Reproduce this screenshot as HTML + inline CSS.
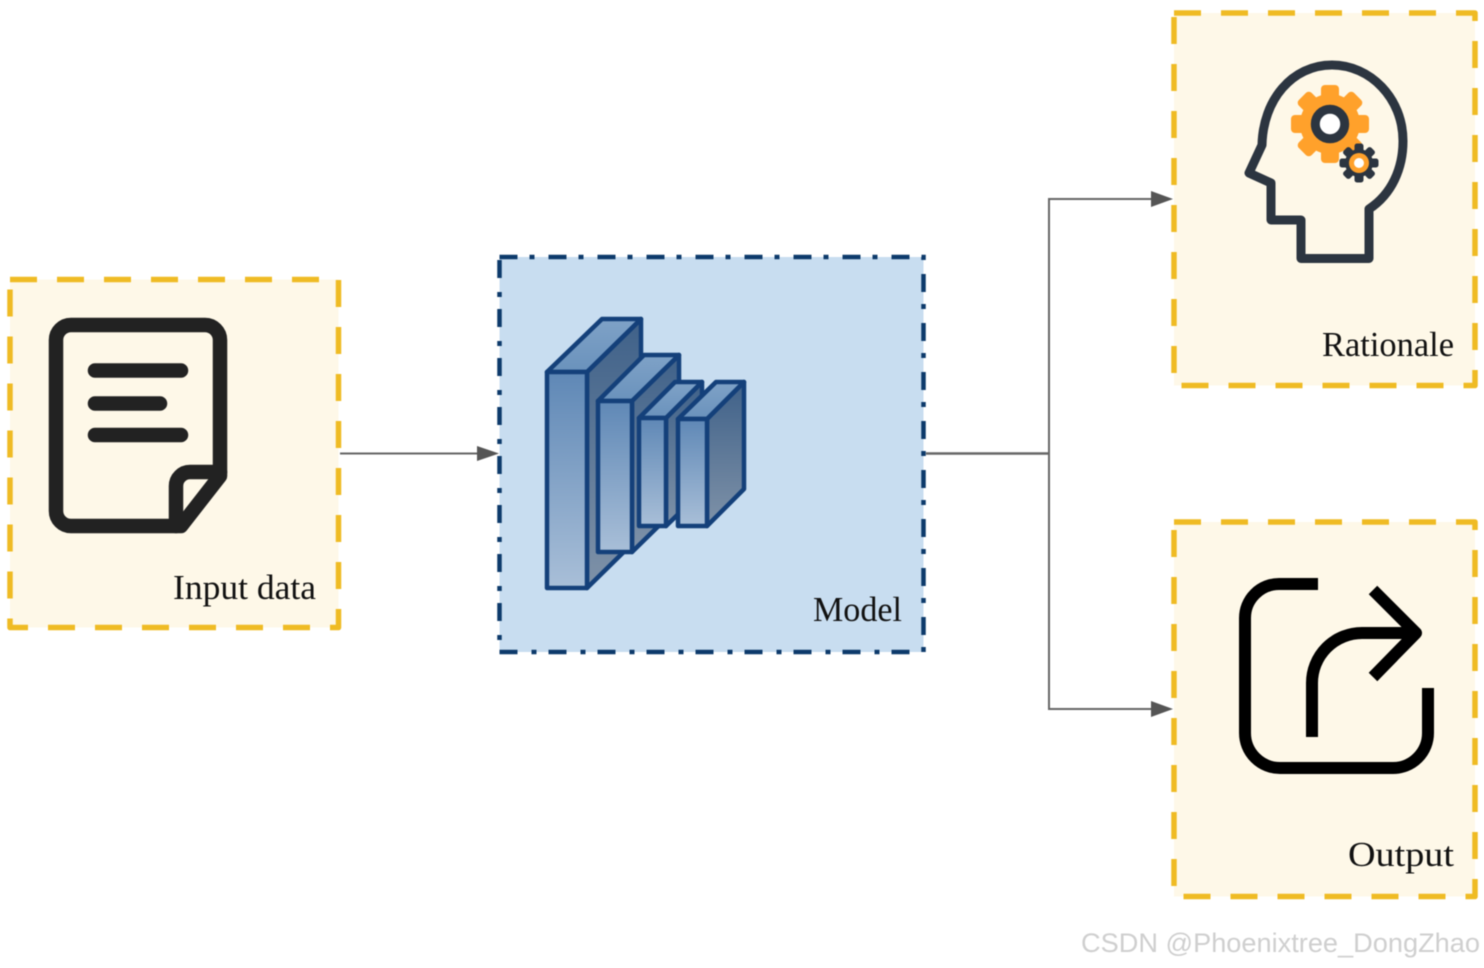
<!DOCTYPE html>
<html>
<head>
<meta charset="utf-8">
<style>
html,body{margin:0;padding:0;background:#fff;}
svg{display:block;filter:blur(0.4px);}
text{font-family:"Liberation Serif",serif;font-size:35px;fill:#111;}
</style>
</head>
<body>
<svg width="1484" height="968" viewBox="0 0 1484 968" xmlns="http://www.w3.org/2000/svg">
<defs>
<linearGradient id="f" x1="0" y1="0" x2="0" y2="1"><stop offset="0" stop-color="#5f88b6"/><stop offset="1" stop-color="#a9bfd8"/></linearGradient>
<linearGradient id="s" x1="0" y1="0" x2="0" y2="1"><stop offset="0" stop-color="#3f6189"/><stop offset="1" stop-color="#7f92a8"/></linearGradient>
<linearGradient id="t" x1="0" y1="0" x2="0" y2="1"><stop offset="0" stop-color="#7fa2c7"/><stop offset="1" stop-color="#6a92bc"/></linearGradient>
</defs>

<!-- Input box -->
<rect x="10" y="279.500" width="328.500" height="348" fill="#fef8e8" stroke="#efbb24" stroke-width="5.500" stroke-dasharray="27 20" stroke-linejoin="round"/>
<!-- doc icon -->
<g fill="none" stroke="#222" stroke-width="14.500" stroke-linecap="round" stroke-linejoin="round">
<path d="M181 526H71a15 15 0 0 1 -15 -15V340a15 15 0 0 1 15 -15H205a15 15 0 0 1 15 15V476L181 526Z"/>
<path d="M220 472H190a14 14 0 0 0 -14 14V526"/>
<path d="M95 370.500H181M95 403.500H160M95 435H181"/>
</g>
<text x="173" y="599" textLength="143" lengthAdjust="spacingAndGlyphs">Input data</text>

<!-- Model box -->
<rect x="499.500" y="257" width="424" height="395" fill="#c8ddf0" stroke="#0d3a6b" stroke-width="4.500" stroke-dasharray="18 12 5 14"/>
<!-- blocks -->
<g stroke="#14407a" stroke-width="4.500" stroke-linejoin="round">
<path d="M587 372L641 319V535L587 588Z" fill="url(#s)"/>
<path d="M547 372L602 319H641L587 372Z" fill="url(#t)"/>
<rect x="547" y="372" width="40" height="216" fill="url(#f)"/>
<path d="M632 401L679 355V506L632 552Z" fill="url(#s)"/>
<path d="M598 401L644 355H679L632 401Z" fill="url(#t)"/>
<rect x="598" y="401" width="34" height="151" fill="url(#f)"/>
<path d="M666 418L702 382V491L666 526Z" fill="url(#s)"/>
<path d="M639 418L675 382H702L666 418Z" fill="url(#t)"/>
<rect x="639" y="418" width="27" height="108" fill="url(#f)"/>
<path d="M707 419L744 382V489L707 526Z" fill="url(#s)"/>
<path d="M678 419L716 382H744L707 419Z" fill="url(#t)"/>
<rect x="678" y="419" width="29" height="107" fill="url(#f)"/>
</g>
<text x="813" y="621" textLength="89" lengthAdjust="spacingAndGlyphs">Model</text>

<!-- Rationale box -->
<rect x="1174" y="13" width="301" height="372.500" fill="#fef8e8" stroke="#efbb24" stroke-width="5.500" stroke-dasharray="27 20" stroke-linejoin="round"/>
<!-- head -->
<g fill="#ffa12b" transform="translate(1330 124)">
<circle r="30"/>
<rect x="-9" y="-39" width="18" height="78" rx="4"/>
<rect x="-9" y="-39" width="18" height="78" rx="4" transform="rotate(45)"/>
<rect x="-9" y="-39" width="18" height="78" rx="4" transform="rotate(90)"/>
<rect x="-9" y="-39" width="18" height="78" rx="4" transform="rotate(135)"/>
</g>
<circle cx="1330" cy="124" r="14.700" fill="#fff" stroke="#2c3540" stroke-width="9"/>
<g fill="#2c3540" transform="translate(1359 163)">
<circle r="14"/>
<rect x="-4.500" y="-19.500" width="9" height="39" rx="2.500"/>
<rect x="-4.500" y="-19.500" width="9" height="39" rx="2.500" transform="rotate(45)"/>
<rect x="-4.500" y="-19.500" width="9" height="39" rx="2.500" transform="rotate(90)"/>
<rect x="-4.500" y="-19.500" width="9" height="39" rx="2.500" transform="rotate(135)"/>
</g>
<circle cx="1359" cy="163" r="10" fill="#ffa12b"/>
<circle cx="1359" cy="163" r="5" fill="#fff"/>
<path d="M1301 258.500H1369V209C1392 194 1403 168 1403 141C1403 98 1370 65 1332 65C1292 65 1263 100 1262 145L1249 173L1271 183V220H1301Z" fill="none" stroke="#2c3540" stroke-width="9" stroke-linejoin="round"/>
<text x="1322" y="356" textLength="132" lengthAdjust="spacingAndGlyphs">Rationale</text>

<!-- Output box -->
<rect x="1174" y="522" width="301" height="374.500" fill="#fef8e8" stroke="#efbb24" stroke-width="5.500" stroke-dasharray="27 20" stroke-linejoin="round"/>
<g fill="none" stroke="#000" stroke-width="12">
<path d="M1318 584H1279a34 34 0 0 0 -34 34V733a35 35 0 0 0 35 35H1393a35 35 0 0 0 35 -35V688"/>
<path d="M1312 737V683a50 50 0 0 1 50 -50H1416"/>
<path d="M1373 590L1416 633L1373 677" stroke-linejoin="round"/>
</g>
<text x="1348" y="866" textLength="106" lengthAdjust="spacingAndGlyphs">Output</text>

<!-- connectors -->
<g fill="none" stroke="#666" stroke-width="2">
<path d="M340 453.500H480"/>
<path d="M1152 199H1049V709H1152"/>
</g>
<path d="M926 453.500H1049" fill="none" stroke="#666" stroke-width="2.500"/>
<g fill="#555">
<path d="M477 446L499 453.500L477 461Z"/>
<path d="M1151 191L1173 199L1151 207Z"/>
<path d="M1151 701L1173 709L1151 717Z"/>
</g>

<!-- watermark -->
<text x="1081" y="952" textLength="399" lengthAdjust="spacingAndGlyphs" style="font-family:'Liberation Sans',sans-serif;font-size:27px;fill:#cfcfcf;">CSDN @Phoenixtree_DongZhao</text>
</svg>
</body>
</html>
